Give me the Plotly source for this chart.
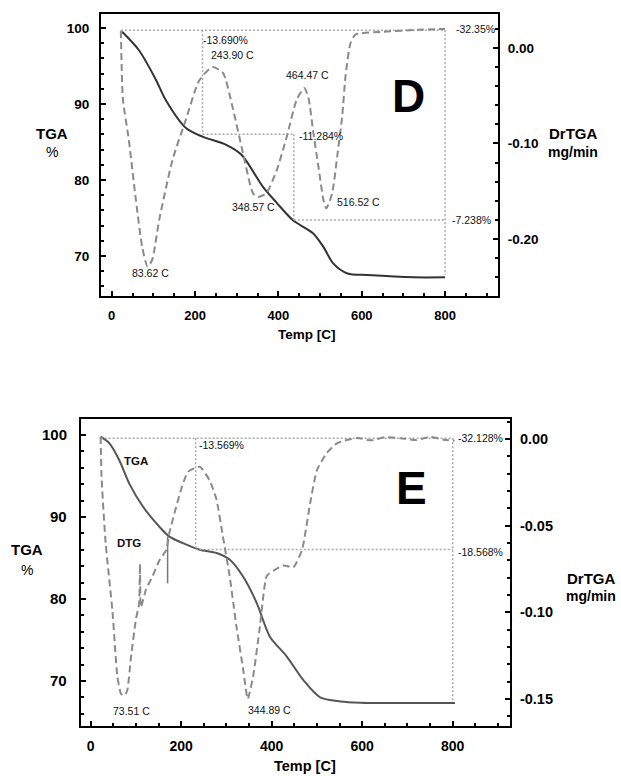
import numpy as np
import plotly.graph_objects as go

# ---------------- Panel D data ----------------
d_tga_temp = [25, 65, 106, 130, 179, 218, 276, 312, 363, 396, 435, 483, 508, 532, 566, 614, 725, 800]
d_tga_pct = [99.5, 97.1, 93.2, 90.5, 86.8, 85.7, 84.6, 83.3, 79.1, 77.0, 74.7, 73.0, 71.2, 69.0, 67.7, 67.5, 67.2, 67.2]

d_dtg_temp = [22, 27, 41, 58, 73, 86, 97, 114, 146, 178, 210, 242, 267, 290, 315, 339, 351, 371, 396, 420,
              444, 462, 472, 484, 496, 508, 515, 529, 541, 553, 561, 573, 585, 653, 734, 800]
d_dtg_val = [0.018, -0.054, -0.096, -0.159, -0.208, -0.229, -0.222, -0.180, -0.117, -0.075, -0.034, -0.020,
             -0.026, -0.062, -0.110, -0.152, -0.156, -0.152, -0.128, -0.093, -0.054, -0.042, -0.052, -0.089,
             -0.124, -0.159, -0.168, -0.152, -0.114, -0.072, -0.030, 0.005, 0.014, 0.017, 0.019, 0.020]

d_peak_labels = ["83.62 C", "243.90 C", "348.57 C", "464.47 C", "516.52 C"]
d_peak_temps = [83.62, 243.90, 348.57, 464.47, 516.52]

d_step_labels = ["-13.690%", "-11.284%", "-7.238%"]
d_step_loss = [13.690, 11.284, 7.238]
d_step_temps = [218, 437, 800]
d_start = [22, 99.7]
d_total_label = "-32.35%"

# ---------------- Panel E data ----------------
e_tga_temp = [22, 41, 63, 85, 115, 152, 174, 204, 241, 278, 307, 337, 367, 396, 433, 470, 507, 552, 596, 685, 805]
e_tga_pct = [99.8, 99.0, 96.95, 94.1, 91.3, 88.8, 87.6, 86.8, 86.0, 85.6, 84.8, 82.7, 79.5, 75.4, 73.0, 70.1,
             68.0, 67.5, 67.35, 67.3, 67.3]

e_dtg_temp = [22, 24, 33, 48, 59, 67, 75, 81, 89, 100, 107, 109, 111, 122, 137, 152, 167, 174, 185, 200, 215,
              241, 263, 278, 292, 307, 322, 337, 347, 359, 374, 389, 404, 426, 448, 467, 485, 500, 522, 544,
              566, 590, 620, 650, 685, 720, 750, 780, 804]
e_dtg_val = [0.0013, -0.022, -0.060, -0.099, -0.137, -0.147, -0.148, -0.145, -0.126, -0.104, -0.095, -0.072,
             -0.097, -0.087, -0.079, -0.070, -0.064, -0.054, -0.043, -0.029, -0.019, -0.016, -0.024, -0.035,
             -0.056, -0.079, -0.108, -0.133, -0.150, -0.137, -0.108, -0.079, -0.076, -0.073, -0.074, -0.064,
             -0.037, -0.018, -0.008, -0.0025, -0.0006, 0.0005, -0.0008, 0.0010, 0.0004, -0.0006, 0.0012,
             -0.0005, -0.001]

e_peak_labels = ["73.51 C", "344.89 C"]
e_peak_temps = [73.51, 344.89]

e_step_labels = ["-13.569%", "-18.568%"]
e_step_loss = [13.569, 18.568]
e_step_temps = [232, 800]
e_start = [22, 99.6]
e_total_label = "-32.128%"
e_marker_temp = 170
e_marker_range = [87.6, 81.9]

x_ticks = [0, 200, 400, 600, 800]
y_ticks = [70, 80, 90, 100]
d_r_ticks = [0.0, -0.10, -0.20]
e_r_ticks = [0.0, -0.05, -0.10, -0.15]

W, H = 621, 776
FONT = "Arial, Liberation Sans, sans-serif"


def fx(px):
    return px / W


def fy(py):
    return 1 - py / H


fig = go.Figure()

# main traces
fig.add_trace(go.Scatter(x=d_tga_temp, y=d_tga_pct, mode="lines", xaxis="x", yaxis="y",
                         line=dict(color="#333333", width=2, shape="spline", smoothing=0.8)))
fig.add_trace(go.Scatter(x=d_dtg_temp, y=d_dtg_val, mode="lines", xaxis="x", yaxis="y2",
                         line=dict(color="#8a8a8a", width=2, dash="7px,4px", shape="spline", smoothing=0.6)))
fig.add_trace(go.Scatter(x=e_tga_temp, y=e_tga_pct, mode="lines", xaxis="x2", yaxis="y3",
                         line=dict(color="#555555", width=2, shape="spline", smoothing=0.8)))
fig.add_trace(go.Scatter(x=e_dtg_temp, y=e_dtg_val, mode="lines", xaxis="x2", yaxis="y4",
                         line=dict(color="#8a8a8a", width=2, dash="7px,4px", shape="spline", smoothing=0.5)))

dot = dict(color="#a8a8a8", width=1.5, dash="2px,2px")


def step_lines(start, temps, losses, end_temp, xa, ya):
    levels = [start[1]]
    for l in losses:
        levels.append(levels[-1] - l)
    segs = []
    segs.append(([start[0], end_temp], [levels[0], levels[0]]))
    for i, t in enumerate(temps[:-1]):
        segs.append(([t, t], [levels[i], levels[i + 1]]))
        nxt = temps[i + 1]
        segs.append(([t, nxt], [levels[i + 1], levels[i + 1]]))
    segs.append(([end_temp, end_temp], [levels[0], levels[-1]]))
    for xs, ys in segs:
        fig.add_trace(go.Scatter(x=xs, y=ys, mode="lines", xaxis=xa, yaxis=ya, line=dot,
                                 hoverinfo="skip"))
    return levels


d_levels = step_lines(d_start, d_step_temps, d_step_loss, 800, "x", "y")
e_levels = step_lines(e_start, e_step_temps, e_step_loss, 800, "x2", "y3")

# marker line in E
fig.add_trace(go.Scatter(x=[e_marker_temp, e_marker_temp], y=e_marker_range, mode="lines",
                         xaxis="x2", yaxis="y3", line=dict(color="#777777", width=1.5), hoverinfo="skip"))

ann = []
small = dict(family=FONT, size=10.5, color="#111111")


def A(**kw):
    kw.setdefault("showarrow", False)
    kw.setdefault("yanchor", "middle")
    kw.setdefault("xanchor", "center")
    ann.append(kw)


# D peak labels
d_shifts = [(4, -10, "center"), (-4, 13, "left"), (-3, -11, "center"), (2, 15, "center"), (8, 5, "left")]
for txt, t, (xs, ys, xa) in zip(d_peak_labels, d_peak_temps, d_shifts):
    v = float(np.interp(t, d_dtg_temp, d_dtg_val))
    A(x=t, y=v, xref="x", yref="y2", text=txt, xanchor=xa, xshift=xs, yshift=ys, font=small)

# E peak labels
e_shifts = [(8, -16), (23, -17)]
for txt, t, (xs, ys) in zip(e_peak_labels, e_peak_temps, e_shifts):
    v = float(np.interp(t, e_dtg_temp, e_dtg_val))
    A(x=t, y=v, xref="x2", yref="y4", text=txt, xshift=xs, yshift=ys, font=small)

# D step labels
A(x=d_step_temps[0], y=d_levels[0], xref="x", yref="y", text=d_step_labels[0],
  xanchor="left", xshift=-2, yshift=-10, font=small)
A(x=d_step_temps[1], y=d_levels[1], xref="x", yref="y", text=d_step_labels[1],
  xanchor="left", xshift=3, yshift=-2, font=small)
A(x=800, y=d_levels[2], xref="x", yref="y", text=d_step_labels[2],
  xanchor="left", xshift=5, yshift=0, font=small)
A(x=800, y=d_levels[0], xref="x", yref="y", text=d_total_label,
  xanchor="left", xshift=9, yshift=1, font=small)

# E step labels
A(x=e_step_temps[0], y=e_levels[0], xref="x2", yref="y3", text=e_step_labels[0],
  xanchor="left", xshift=1, yshift=-7, font=small)
A(x=800, y=e_levels[1], xref="x2", yref="y3", text=e_step_labels[1],
  xanchor="left", xshift=3, yshift=-2, font=small)
A(x=800, y=e_levels[0], xref="x2", yref="y3", text=e_total_label,
  xanchor="left", xshift=3, yshift=0, font=small)

# E curve labels
A(x=fx(136), y=fy(461), xref="paper", yref="paper", text="TGA",
  font=dict(family=FONT, size=11.5, color="#111111", weight="bold"))
A(x=fx(129), y=fy(543), xref="paper", yref="paper", text="DTG",
  font=dict(family=FONT, size=11.5, color="#111111", weight="bold"))

# panel letters
big = dict(family=FONT, size=46, color="#000000", weight="bold")
A(x=fx(408), y=fy(96), xref="paper", yref="paper", text="D", font=big)
A(x=fx(411), y=fy(488), xref="paper", yref="paper", text="E", font=big)

# axis titles
tb = dict(family=FONT, size=15, color="#000000", weight="bold")
tb2 = dict(family=FONT, size=14, color="#000000", weight="bold")
tr = dict(family=FONT, size=14, color="#000000")
for (cx, cy1, cy2) in [(52, 133, 152), (27, 549, 570)]:
    A(x=fx(cx), y=fy(cy1), xref="paper", yref="paper", text="TGA", font=tb)
    A(x=fx(cx), y=fy(cy2), xref="paper", yref="paper", text="%", font=tr)
for (cx, cy1, cy2) in [(573, 133, 152), (591, 578, 596)]:
    A(x=fx(cx), y=fy(cy1), xref="paper", yref="paper", text="DrTGA", font=tb)
    A(x=fx(cx), y=fy(cy2), xref="paper", yref="paper", text="mg/min", font=tb2)
for (cx, cy, sz) in [(307, 334, 13.5), (305, 766, 14.5)]:
    A(x=fx(cx), y=fy(cy), xref="paper", yref="paper", text="Temp [C]",
      font=dict(family=FONT, size=sz, color="#000000", weight="bold"))


def tf(size):
    return dict(family=FONT, size=size, color="#000000", weight="bold")


# E left tick labels placed on the y3 scale
for v in y_ticks:
    A(x=fx(69), y=v, xref="paper", yref="y3", text=str(v), xanchor="right", font=tf(15))

common = dict(showline=True, linecolor="#000000", linewidth=2, ticks="inside", ticklen=5, tickwidth=1.5,
              tickcolor="#000000", showgrid=False, zeroline=False)


def fmt(v):
    return "0.00" if v == 0 else f"{v:.2f}"


fig.update_layout(
    width=W, height=H, margin=dict(l=0, r=0, t=0, b=0),
    paper_bgcolor="white", plot_bgcolor="white", showlegend=False,
    annotations=ann,
    xaxis=dict(domain=[fx(101), fx(498)], range=[-25.7, 927], anchor="y", mirror=True,
               tickvals=x_ticks, ticktext=[str(v) for v in x_ticks], ticklabelstandoff=6, tickfont=tf(13),
               minor=dict(ticks="inside", dtick=50, ticklen=3, tickcolor="#000000"), **common),
    yaxis=dict(domain=[fy(296), fy(14)], range=[64.74, 101.84], anchor="x", side="left",
               tickvals=y_ticks, ticktext=[str(v) for v in y_ticks], ticklabelstandoff=7, tickfont=tf(13.5),
               minor=dict(ticks="inside", dtick=2, ticklen=3, tickcolor="#000000"), **common),
    yaxis2=dict(range=[-0.2597, 0.0356], overlaying="y", anchor="x", side="right",
                tickvals=d_r_ticks, ticktext=[fmt(v) for v in d_r_ticks], ticklabelstandoff=5, tickfont=tf(13.5),
                minor=dict(ticks="inside", dtick=0.02, ticklen=3, tickcolor="#000000"), **common),
    xaxis2=dict(domain=[fx(81), fx(510)], range=[-21.4, 926.6], anchor="y3", mirror=True,
                tickvals=x_ticks, ticktext=[str(v) for v in x_ticks], ticklabelstandoff=6, tickfont=tf(14),
                minor=dict(ticks="inside", dtick=50, ticklen=3, tickcolor="#000000"), **common),
    yaxis3=dict(domain=[fy(726), fy(419)], range=[64.5, 101.95], anchor="x2", side="left",
                tickvals=y_ticks, showticklabels=False,
                minor=dict(ticks="inside", dtick=2, ticklen=3, tickcolor="#000000"), **common),
    yaxis4=dict(range=[-0.1656, 0.0115], overlaying="y3", anchor="x2", side="right",
                tickvals=e_r_ticks, ticktext=[fmt(v) for v in e_r_ticks], ticklabelstandoff=5, tickfont=tf(14.5),
                minor=dict(ticks="inside", dtick=0.01, ticklen=3, tickcolor="#000000"), **common),
)

fig.write_html("out.html")
